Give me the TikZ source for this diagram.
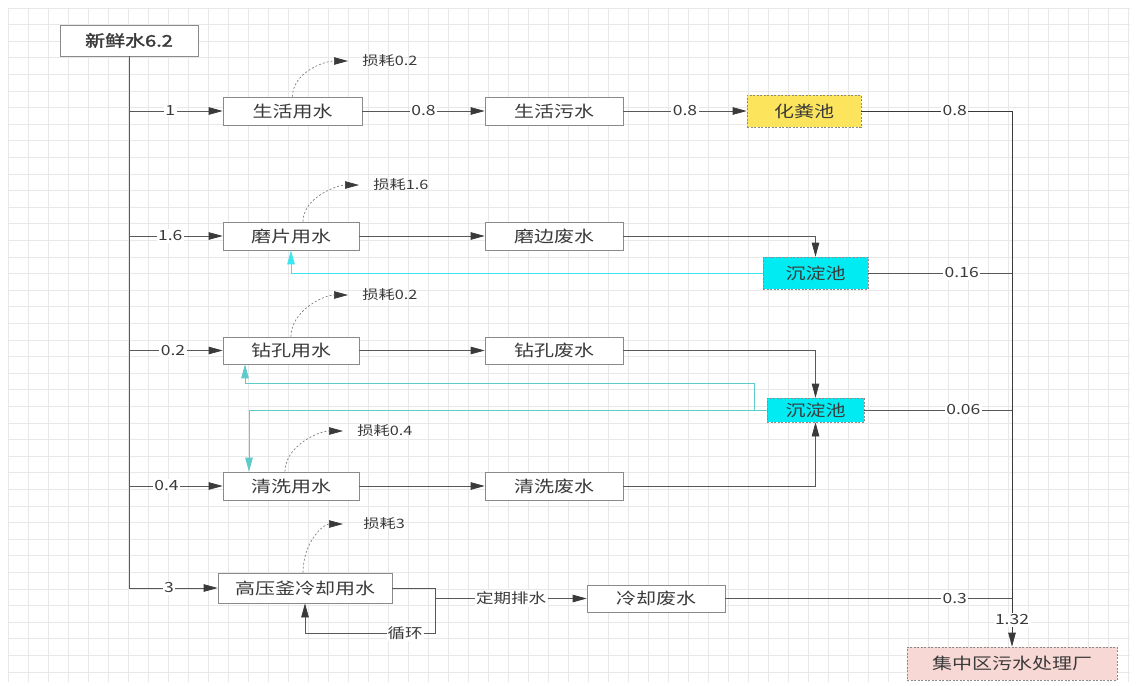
\documentclass[tikz,border=0pt]{standalone}
\usepackage{fontspec}
\setmainfont{Noto Sans CJK SC}[FakeStretch=1.25,AutoFakeBold=2]
\usepackage{xcolor}
\usetikzlibrary{arrows.meta}

\definecolor{ink}{HTML}{3A3A3A}
\definecolor{boxline}{HTML}{8A8A8A}
\definecolor{gridc}{HTML}{E8E8E8}
\definecolor{septicfill}{HTML}{FCE45C}
\definecolor{settlefill}{HTML}{00ECF2}
\definecolor{plantfill}{HTML}{F8D8D5}
\definecolor{cyanline}{HTML}{3CE6F0}
\definecolor{tealline}{HTML}{5FCACA}

\begin{document}
\begin{tikzpicture}[x=1pt,y=-1pt,>={Triangle[length=14pt,width=7.5pt,color=ink]},line width=0.7pt,
  box/.style={draw=boxline,fill=white,minimum width=#1,minimum height=28pt,inner sep=0pt,
    font=\fontsize{16}{18}\selectfont,text=ink},
  box/.default=138pt,
  pool/.style={box=#1,dashed,dash pattern=on 2pt off 1.5pt,minimum height=32pt},
  lbl/.style={fill=white,inner sep=1.5pt,font=\fontsize{14}{16}\selectfont,text=ink},
  loss/.style={anchor=west,inner sep=0pt,font=\fontsize{13}{15}\selectfont,text=ink},
  flow/.style={draw=ink!85},
  lossarrow/.style={->,draw=gray,dash pattern=on 2pt off 2pt},
  recyc/.style={-{Triangle[length=14pt,width=7.5pt]},draw=cyanline,line width=0.8pt},
  gridline/.style={draw=gridc,line width=0.8pt}]

% background and grid
\fill[white] (0,0) rectangle (1137,685);
\foreach \gx in {8,28,...,1128} \draw[gridline] (\gx,8) -- (\gx,682);
\foreach \gy in {8,24.6,...,682} \draw[gridline] (8,\gy) -- (1130,\gy);

% source
\node[box=138pt,minimum height=31pt,font=\fontsize{16}{18}\selectfont\bfseries] (fresh) at (129,40.5) {新鲜水6.2};

% use / waste nodes
\node[box=139pt] (domU) at (292.5,111) {生活用水};
\node[box] (domW) at (554,111) {生活污水};
\node[pool=114pt,fill=septicfill] (septic) at (804,111) {化粪池};

\node[box=136pt] (grindU) at (291,236) {磨片用水};
\node[box] (grindW) at (554,236) {磨边废水};
\node[pool=105pt,fill=settlefill] (settleA) at (815.5,273) {沉淀池};

\node[box=136pt,minimum height=27pt] (drillU) at (291,350.5) {钻孔用水};
\node[box,minimum height=27pt] (drillW) at (554,350.5) {钻孔废水};
\node[pool=97pt,minimum height=24pt,fill=settlefill] (settleB) at (815.5,410) {沉淀池};

\node[box=136pt] (washU) at (291,486) {清洗用水};
\node[box] (washW) at (554,486) {清洗废水};

\node[box=174pt,minimum height=30pt] (coolU) at (305,588) {高压釜冷却用水};
\node[box,minimum height=27pt] (coolW) at (656,598.5) {冷却废水};

\node[pool=210pt,minimum height=33pt,fill=plantfill] (plant) at (1012,663.5) {集中区污水处理厂};

% losses
\node[loss] (loss1) at (362,61) {损耗0.2};
\node[loss] (loss2) at (373,185) {损耗1.6};
\node[loss] (loss3) at (362,295) {损耗0.2};
\node[loss] (loss4) at (357,431) {损耗0.4};
\node[loss] (loss5) at (363,524) {损耗3};

\draw[lossarrow] (domU.north) .. controls +(0,-24) and +(-24,0) .. ([xshift=-14pt]loss1.west);
\draw[lossarrow] ([xshift=12pt]grindU.north) .. controls +(0,-24) and +(-22,0) .. ([xshift=-14pt]loss2.west);
\draw[lossarrow] (drillU.north) .. controls +(0,-26) and +(-24,0) .. ([xshift=-14pt]loss3.west);
\draw[lossarrow] ([xshift=-6pt]washU.north) .. controls +(0,-26) and +(-24,0) .. ([xshift=-14pt]loss4.west);
\draw[lossarrow] ([xshift=-2pt]coolU.north) .. controls +(0,-30) and +(-20,0) .. ([xshift=-20pt]loss5.west);

% fresh water trunk and branches
\draw[flow] (fresh.south) -- (coolU.west -| fresh.south);
\draw[flow,->] (domU.west -| fresh.south) -- node[lbl,pos=0.44] {1} (domU.west);
\draw[flow,->] (grindU.west -| fresh.south) -- node[lbl,pos=0.44] {1.6} (grindU.west);
\draw[flow,->] (drillU.west -| fresh.south) -- node[lbl,pos=0.47] {0.2} (drillU.west);
\draw[flow,->] (washU.west -| fresh.south) -- node[lbl,pos=0.4] {0.4} (washU.west);
\draw[flow,->] (coolU.west -| fresh.south) -- node[lbl,pos=0.45] {3} (coolU.west);

% domestic line
\draw[flow,->] (domU) -- node[lbl] {0.8} (domW);
\draw[flow,->] (domW) -- node[lbl] {0.8} (septic);

% process lines
\draw[flow,->] (grindU) -- (grindW);
\draw[flow,->] (grindW.east) -| (settleA.north);
\draw[flow,->] (drillU) -- (drillW);
\draw[flow,->] (drillW.east) -| (settleB.north);
\draw[flow,->] (washU) -- (washW);
\draw[flow,->] (washW.east) -| (settleB.south);

% recycled water
\draw[recyc] (settleA.west) -| (grindU.south);
\coordinate (turn) at (754,383);
\draw[recyc,draw=tealline] (settleB.west) -- (settleB.west -| turn) -- (turn) -| ([xshift=-46pt]drillU.south);
\draw[recyc,draw=tealline] (settleB.west) -| ([xshift=-42pt]washU.north);

% cooling loop
\coordinate (split) at ([xshift=43pt]coolU.east);
\draw[flow,->] (coolU.east) -- (split) -- ++(0,45) -| (coolU.south);
\node[lbl,inner sep=1pt] (cycle) at (405,633) {循环};
\draw[flow,->] (split |- coolW.west) -- node[lbl] {定期排水} (coolW.west);

% to the treatment plant
\draw[flow,draw=ink] (septic.east) -- node[lbl,pos=0.62] {0.8} (septic.east -| plant.north);
\draw[flow,draw=ink,->] (septic.east -| plant.north) -- node[lbl,pos=0.95] {1.32} (plant.north);
\draw[flow] (settleA.east) -- node[lbl,pos=0.65] {0.16} (settleA.east -| plant.north);
\draw[flow] (settleB.east) -- node[lbl,pos=0.67] {0.06} (settleB.east -| plant.north);
\draw[flow] (coolW.east) -- node[lbl,pos=0.8] {0.3} (coolW.east -| plant.north);
\end{tikzpicture}
\end{document}
